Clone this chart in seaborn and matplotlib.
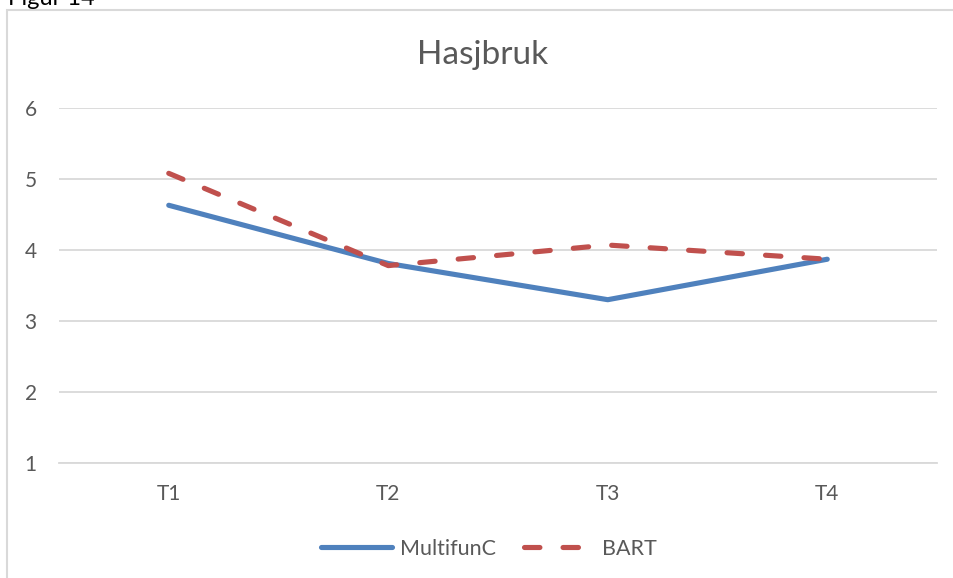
import seaborn as sns
import numpy as np
import pandas as pd
import matplotlib.pyplot as plt
from matplotlib.patches import Rectangle

# values
times = ["T1", "T2", "T3", "T4"]
multifunc = [4.63, 3.81, 3.30, 3.87]
bart = [5.08, 3.78, 4.07, 3.87]
series_names = ["MultifunC", "BART"]
title = "Hasjbruk"
yticks = [1, 2, 3, 4, 5, 6]

df = pd.DataFrame({
    "tid": times * 2,
    "verdi": multifunc + bart,
    "serie": [series_names[0]] * 4 + [series_names[1]] * 4,
})

sns.set_theme(style="white")
plt.rcParams["font.family"] = ["Lato", "DejaVu Sans"]

W, H = 954, 578
fig = plt.figure(figsize=(W / 100, H / 100), dpi=100)

# chart frame (cut at right and bottom like in the screenshot)
fig.patches.append(Rectangle((7 / W, -0.1), 1.1, 1 - 10 / H + 0.1, transform=fig.transFigure,
                             fill=False, edgecolor="#D9D9D9", linewidth=1.5))
fig.text(8 / W, 1 - 5 / H, "Figur 14", fontsize=17, color="#000000", ha="left", va="baseline")

ax = fig.add_axes([59 / W, 1 - 463 / H, (937 - 59) / W, (463 - 108) / H])
ax.set_facecolor("white")
dash = (3.0, 4.5)
sns.lineplot(data=df, x="tid", y="verdi", hue="serie", style="serie",
             palette={"MultifunC": "#4F81BD", "BART": "#C0504D"},
             dashes={"MultifunC": "", "BART": dash},
             linewidth=3.7, ax=ax, legend=False, sort=False)
for line in ax.lines:
    line.set_solid_capstyle("round")
    line.set_dash_capstyle("round")
    line.set_solid_joinstyle("round")

ax.set_ylim(1, 6)
ax.set_xlim(-0.5, 3.5)
ax.set_yticks(yticks)
ax.yaxis.grid(True, color="#D9D9D9", linewidth=1.3)
ax.xaxis.grid(False)
for s in ["top", "right", "left"]:
    ax.spines[s].set_visible(False)
ax.spines["bottom"].set_color("#D9D9D9")
ax.spines["bottom"].set_linewidth(1.3)
ax.tick_params(axis="both", length=0, labelsize=15, labelcolor="#595959")
ax.tick_params(axis="y", pad=16)
ax.tick_params(axis="x", pad=15)
ax.set_xlabel("")
ax.set_ylabel("")

fig.text(483 / W, 1 - 55 / H, title, fontsize=24, color="#595959", ha="center", va="center")

handles = [
    plt.Line2D([], [], color="#4F81BD", linewidth=3.7, solid_capstyle="round"),
    plt.Line2D([], [], color="#C0504D", linewidth=3.7, dashes=dash, dash_capstyle="round"),
]
fig.legend(handles, series_names, loc="center", bbox_to_anchor=(489 / W, 1 - 549 / H), ncol=2,
           frameon=False, fontsize=15.5, handlelength=3.3, columnspacing=1.3, handletextpad=0.35,
           labelcolor="#595959")

fig.savefig("out.png", dpi=100)
